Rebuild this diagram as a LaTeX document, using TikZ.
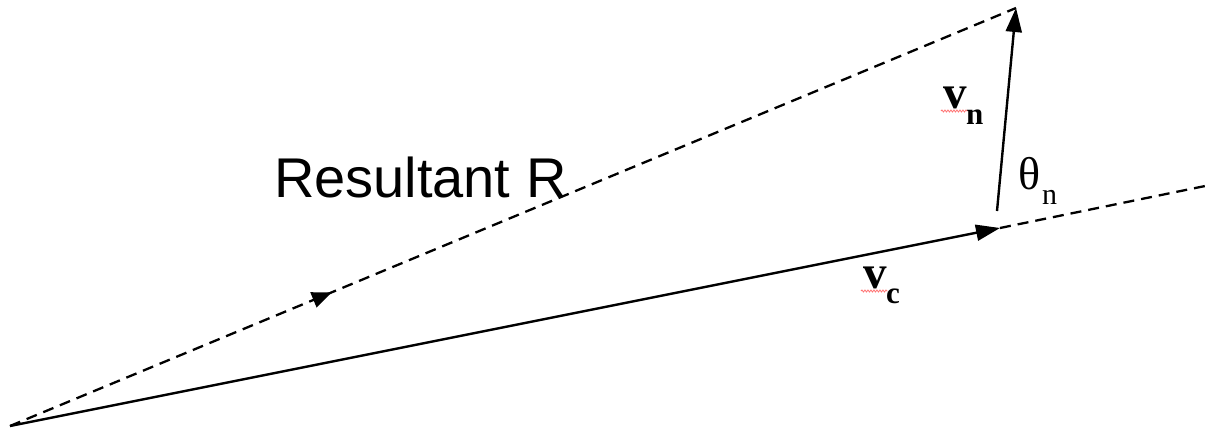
\documentclass[tikz,border=0pt]{standalone}
\usepackage{fontspec}
\setmainfont{Liberation Serif}
\newfontfamily\arialfont{Liberation Sans}
\usetikzlibrary{arrows.meta,decorations.markings,decorations.pathmorphing,calc}
\tikzset{
  vecline/.style={line width=2.4pt, -{Triangle[length=24pt,width=16pt]}},
  dashline/.style={line width=2.3pt, dash pattern=on 11pt off 7pt},
  lbl/.style={inner sep=0pt, outer sep=0pt, anchor=base west},
  vsym/.style={lbl, font=\fontsize{47}{47}\selectfont\bfseries},
  vsub/.style={lbl, font=\fontsize{31}{31}\selectfont\bfseries},
  squiggle/.style={red!55, line width=0.8pt, decorate, decoration={snake, amplitude=1pt, segment length=3pt}},
  midarrow/.style={postaction={decorate, decoration={markings,
     mark=at position 0.32 with {\arrow{Triangle[length=20pt,width=16pt]}}}}}
}
\begin{document}
\begin{tikzpicture}[x=1pt,y=-1pt]
\useasboundingbox (0,0) rectangle (1210,431);
\coordinate (O) at (10,426);
\coordinate (C) at (1000,228);
\coordinate (E) at (1210,185);
\coordinate (N0) at (997,211);
\coordinate (N1) at (1016,8);

\draw[dashline, midarrow] (O) -- (N1);
\draw[vecline] (O) -- (C);
\draw[dashline] (C) -- (E);
\draw[vecline] (N0) -- (N1);

\node[lbl, font=\arialfont\fontsize{56}{56}\selectfont] (res) at (274,197) {Resultant R};

\node[vsym] (vn) at (943,108) {v};
\node[vsub] (vnsub) at (966,124) {n};
\draw[squiggle] ($(vn.base west)+(-2,3)$) -- ($(vn.base east)+(1,3)$);

\node[vsym] (vc) at (863,288) {v};
\node[vsub] (vcsub) at (886,303) {c};
\draw[squiggle] ($(vc.base west)+(-2,3)$) -- ($(vc.base east)+(1,3)$);

\node[lbl, font=\fontsize{46}{46}\selectfont] (th) at (1018,189) {θ};
\node[lbl, font=\fontsize{30}{30}\selectfont] (thsub) at (1042,204) {n};
\end{tikzpicture}
\end{document}
